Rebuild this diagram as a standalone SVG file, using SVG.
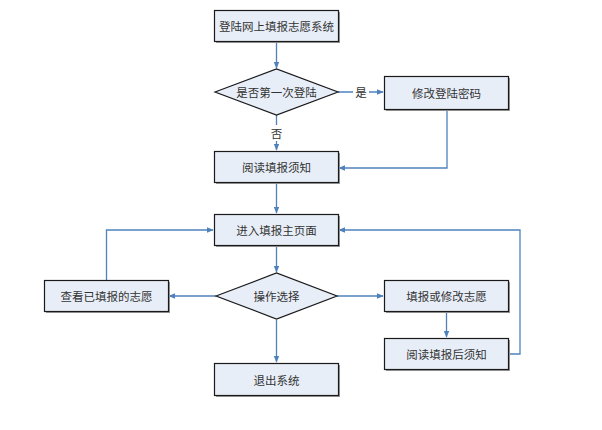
<svg xmlns="http://www.w3.org/2000/svg" width="602" height="430" viewBox="0 0 602 430">
<style>
.n{fill:#e8eef8;stroke:#1a1a1a;stroke-width:1.2}
.sh{fill:#9a9a9a}
.t{font-family:"Noto Sans CJK SC",sans-serif;font-size:11.5px;fill:#333;text-anchor:middle;dominant-baseline:central}
.c{fill:none;stroke:#4f81bd;stroke-width:1.3}
</style>
<defs>
<marker id="a" viewBox="0 0 10 10" refX="9" refY="5" markerWidth="7" markerHeight="7" orient="auto" markerUnits="userSpaceOnUse">
<path d="M0,1 L10,5 L0,9 z" fill="#4f81bd"/>
</marker>
</defs>
<rect width="602" height="430" fill="#fff"/>
<g id="connectors">
<path class="c" d="M276.5,42 V68" marker-end="url(#a)"/>
<path class="c" d="M338,92 H353 M369,92 H383" marker-end="url(#a)"/>
<path class="c" d="M276.5,115 V125 M276.5,141 V150" marker-end="url(#a)"/>
<path class="c" d="M447,110 V168 H339" marker-end="url(#a)"/>
<path class="c" d="M276.5,184 V213" marker-end="url(#a)"/>
<path class="c" d="M276.5,246 V272" marker-end="url(#a)"/>
<path class="c" d="M216,296 H169" marker-end="url(#a)"/>
<path class="c" d="M106.5,280 V230 H213" marker-end="url(#a)"/>
<path class="c" d="M337,296 H383" marker-end="url(#a)"/>
<path class="c" d="M276.5,320 V362" marker-end="url(#a)"/>
<path class="c" d="M446.5,312 V337" marker-end="url(#a)"/>
<path class="c" d="M509,354 H520 V230 H339" marker-end="url(#a)"/>
<text class="t" x="361" y="92">是</text>
<text class="t" x="276.5" y="133">否</text>
</g>
<g id="n1"><rect class="sh" x="216" y="12" width="124" height="31"/><rect class="n" x="214.5" y="10.5" width="124" height="31"/><text class="t" x="276.5" y="26">登陆网上填报志愿系统</text></g>
<g id="n2"><polygon class="n" points="215,92 276.5,69 338,92 276.5,115"/><text class="t" x="276.5" y="92">是否第一次登陆</text></g>
<g id="n3"><rect class="sh" x="386" y="78" width="124" height="33"/><rect class="n" x="384.5" y="76.5" width="124" height="33"/><text class="t" x="446.5" y="93">修改登陆密码</text></g>
<g id="n4"><rect class="sh" x="216" y="153" width="124" height="31"/><rect class="n" x="214.5" y="151.5" width="124" height="31"/><text class="t" x="276.5" y="167">阅读填报须知</text></g>
<g id="n5"><rect class="sh" x="216" y="216" width="124" height="31"/><rect class="n" x="214.5" y="214.5" width="124" height="31"/><text class="t" x="276.5" y="230">进入填报主页面</text></g>
<g id="n6"><polygon class="n" points="216,296 276.5,273 337,296 276.5,319"/><text class="t" x="276.5" y="296">操作选择</text></g>
<g id="n7"><rect class="sh" x="46" y="282" width="124" height="31"/><rect class="n" x="44.5" y="280.5" width="124" height="31"/><text class="t" x="106.5" y="296">查看已填报的志愿</text></g>
<g id="n8"><rect class="sh" x="386" y="282" width="124" height="31"/><rect class="n" x="384.5" y="280.5" width="124" height="31"/><text class="t" x="446.5" y="296">填报或修改志愿</text></g>
<g id="n9"><rect class="sh" x="386" y="340" width="124" height="31"/><rect class="n" x="384.5" y="338.5" width="124" height="31"/><text class="t" x="446.5" y="354">阅读填报后须知</text></g>
<g id="n10"><rect class="sh" x="216" y="365" width="124" height="32"/><rect class="n" x="214.5" y="363.5" width="124" height="32"/><text class="t" x="276.5" y="380">退出系统</text></g>
</svg>
